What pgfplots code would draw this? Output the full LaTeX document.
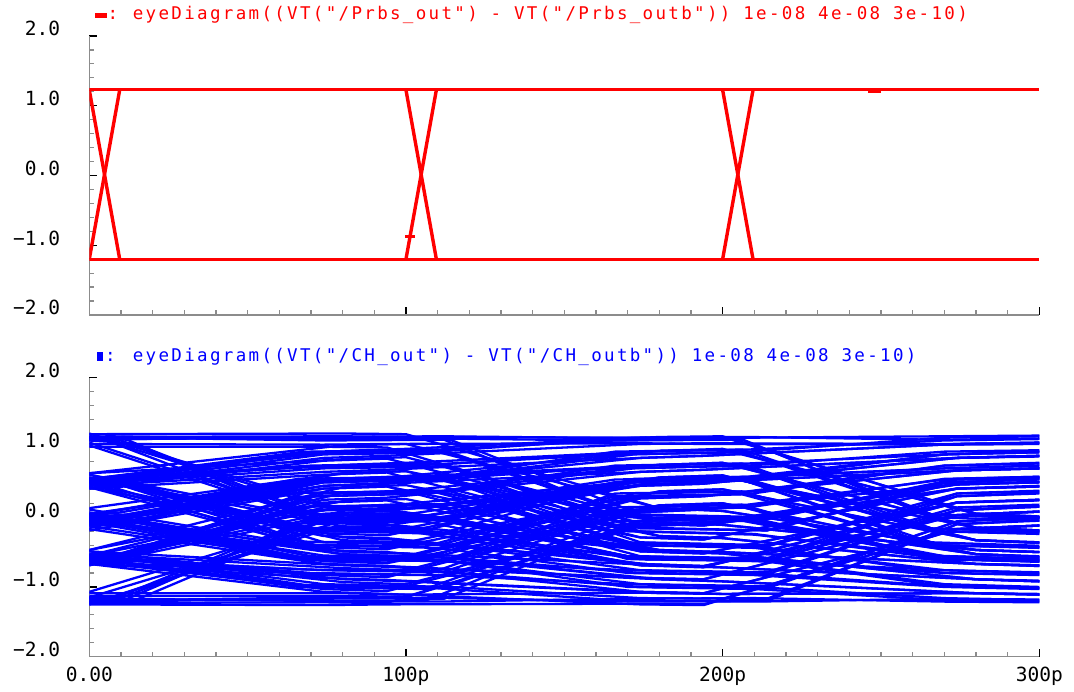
\documentclass[border=0pt]{standalone}
\usepackage{pgfplots}
\pgfplotsset{compat=1.18}
\usepackage{fontspec}
\setmainfont{DejaVu Sans Mono}[RawFeature={+zero}]
\newfontfamily\titlefont{DejaVu Sans Mono}[LetterSpace=13.3,RawFeature={+zero}]
\newfontfamily\tickfont{DejaVu Sans Mono}[RawFeature={+zero}]
\definecolor{cred}{RGB}{255,0,0}
\definecolor{cblue}{RGB}{0,0,255}
\definecolor{axgray}{RGB}{140,140,140}
\pgfplotsset{
  cad/.style={
    scale only axis, width=950bp, height=279bp,
    xmin=0, xmax=300, ymin=-2, ymax=2,
    axis x line*=bottom, axis y line*=left,
    axis line style={axgray, line width=1.5bp, -},
    xtick={0,100,200,300}, minor x tick num=9,
    ytick={-2,-1,0,1,2}, minor y tick num=4,
    yticklabels={−2.0,−1.0,0.0,1.0,2.0},
    tick align=inside,
    major tick length=8bp, minor tick length=4.5bp,
    every major tick/.append style={black, line width=1.3bp},
    every minor tick/.append style={axgray, line width=1.2bp},
    yticklabel style={anchor=base east, inner sep=0pt, xshift=-29bp, font=\tickfont\fontsize{19.5bp}{21bp}\selectfont},
    xticklabel style={anchor=base, inner sep=0pt, yshift=-25bp, font=\tickfont\fontsize{19.5bp}{21bp}\selectfont},
    title style={at={(0,1)}, anchor=base west, inner sep=0pt, xshift=5.7bp, yshift=10.5bp, font=\titlefont\fontsize{17.5bp}{19bp}\selectfont},
  },
  rd/.style={cred, line width=3bp},
  rt/.style={cred, line width=3.4bp},
  bl/.style={cblue, line width=2.3bp},
}
\begin{document}
\begin{tikzpicture}
\path[use as bounding box] (0,0) rectangle (1074bp,692bp);
\begin{axis}[cad, at={(89.3bp,377bp)}, anchor=south west,
  xticklabels={,,,},
  title={\textcolor{cred}{\makebox[37.7bp][l]{\rule[1.7bp]{12bp}{5bp}\hspace{0.5bp}:}eyeDiagram((VT("/Prbs\_out") - VT("/Prbs\_outb")) 1e-08 4e-08 3e-10)}}]
\addplot[rd] coordinates {(0,1.227)(300,1.227)};
\addplot[rd] coordinates {(0,-1.2)(300,-1.2)};
\addplot[rt] coordinates {(0,1.227)(9.6,-1.2)};
\addplot[rt] coordinates {(0,-1.2)(9.6,1.227)};
\addplot[rt] coordinates {(100,1.227)(109.6,-1.2)};
\addplot[rt] coordinates {(100,-1.2)(109.6,1.227)};
\addplot[rt] coordinates {(200,1.227)(209.6,-1.2)};
\addplot[rt] coordinates {(200,-1.2)(209.6,1.227)};
\addplot[cred, line width=3bp] coordinates {(99.8,-0.88)(102.8,-0.88)};
\addplot[cred, line width=3bp] coordinates {(246,1.21)(250,1.21)};
\addplot[cred, line width=3bp] coordinates {(209.6,-1.2)(213.5,-1.2)};
\end{axis}
\begin{axis}[cad, at={(89.3bp,35.3bp)}, anchor=south west,
  xticklabels={0.00,100p,200p,300p},
  title={\textcolor{cblue}{\makebox[37.7bp][l]{\hspace{2bp}\rule{6bp}{9bp}\hspace{2bp}:}eyeDiagram((VT("/CH\_out") - VT("/CH\_outb")) 1e-08 4e-08 3e-10)}}]
% set 1
\addplot[bl] coordinates {(0,-1.16)(10,-1.17)(70,-1.20)(110,-1.21)(170,-1.17)(210,-1.16)(270,-1.21)(300,-1.22)};
\addplot[bl] coordinates {(0,-1.20)(14,-1.19)(74,-1.15)(114,-1.16)(174,-1.21)(214,-1.20)(274,-0.10)(300,-0.04)};
\addplot[bl] coordinates {(0,-1.17)(6,-1.18)(66,-1.19)(106,-1.20)(166,-0.11)(206,-0.05)(266,-0.55)(300,-0.60)};
\addplot[bl] coordinates {(0,-1.22)(12,-1.21)(68,-1.16)(112,-1.17)(172,-0.06)(208,-0.02)(270,0.49)(300,0.55)};
\addplot[bl] coordinates {(0,-1.15)(10,-1.16)(70,-0.10)(110,-0.04)(170,-0.56)(210,-0.61)(270,-0.80)(300,-0.83)};
\addplot[bl] coordinates {(0,-1.19)(14,-1.20)(74,-0.05)(114,-0.01)(174,-0.60)(214,-0.62)(274,0.30)(300,0.35)};
\addplot[bl] coordinates {(0,-1.21)(6,-1.20)(66,-0.09)(106,-0.06)(166,0.50)(206,0.55)(266,-0.16)(300,-0.21)};
\addplot[bl] coordinates {(0,-1.16)(12,-1.17)(68,-0.07)(112,-0.03)(172,0.54)(208,0.58)(270,0.90)(300,0.95)};
\addplot[bl] coordinates {(0,-0.05)(10,-0.08)(70,-0.60)(110,-0.63)(170,-0.76)(210,-0.80)(270,-0.99)(300,-1.02)};
\addplot[bl] coordinates {(0,-0.11)(14,-0.13)(74,-0.55)(114,-0.58)(174,-0.80)(214,-0.82)(274,0.10)(300,0.16)};
\addplot[bl] coordinates {(0,-0.06)(6,-0.09)(66,-0.57)(106,-0.60)(166,0.34)(206,0.37)(266,-0.40)(300,-0.44)};
\addplot[bl] coordinates {(0,-0.10)(12,-0.12)(68,-0.61)(112,-0.62)(172,0.29)(208,0.33)(270,0.74)(300,0.78)};
\addplot[bl] coordinates {(0,-0.07)(10,-0.04)(70,0.55)(110,0.58)(170,-0.20)(210,-0.25)(270,-0.56)(300,-0.60)};
\addplot[bl] coordinates {(0,-0.09)(14,-0.06)(74,0.50)(114,0.54)(174,-0.15)(214,-0.19)(274,0.54)(300,0.57)};
\addplot[bl] coordinates {(0,-0.05)(6,-0.02)(66,0.49)(106,0.54)(166,0.94)(206,0.97)(266,0.04)(300,-0.02)};
\addplot[bl] coordinates {(0,-0.12)(12,-0.08)(68,0.53)(112,0.57)(172,0.90)(208,0.94)(270,1.14)(300,1.16)};
\addplot[bl] coordinates {(0,-0.55)(10,-0.58)(70,-0.80)(110,-0.83)(170,-0.96)(210,-1.00)(270,-1.16)(300,-1.19)};
\addplot[bl] coordinates {(0,-0.61)(14,-0.63)(74,-0.76)(114,-0.79)(174,-1.00)(214,-1.02)(274,-0.06)(300,0.00)};
\addplot[bl] coordinates {(0,-0.56)(6,-0.59)(66,-0.81)(106,-0.83)(166,0.14)(206,0.18)(266,-0.60)(300,-0.64)};
\addplot[bl] coordinates {(0,-0.60)(12,-0.62)(68,-0.75)(112,-0.78)(172,0.09)(208,0.14)(270,0.55)(300,0.58)};
\addplot[bl] coordinates {(0,-0.57)(10,-0.54)(70,0.30)(110,0.35)(170,-0.36)(210,-0.41)(270,-0.80)(300,-0.82)};
\addplot[bl] coordinates {(0,-0.59)(14,-0.56)(74,0.34)(114,0.37)(174,-0.40)(214,-0.42)(274,0.30)(300,0.34)};
\addplot[bl] coordinates {(0,-0.61)(6,-0.58)(66,0.29)(106,0.34)(166,0.74)(206,0.77)(266,-0.16)(300,-0.21)};
\addplot[bl] coordinates {(0,-0.56)(12,-0.53)(68,0.35)(112,0.38)(172,0.70)(208,0.74)(270,0.94)(300,0.96)};
\addplot[bl] coordinates {(0,0.55)(10,0.52)(70,-0.16)(110,-0.21)(170,-0.56)(210,-0.60)(270,-0.96)(300,-1.00)};
\addplot[bl] coordinates {(0,0.50)(14,0.47)(74,-0.20)(114,-0.24)(174,-0.60)(214,-0.62)(274,0.14)(300,0.18)};
\addplot[bl] coordinates {(0,0.54)(6,0.51)(66,-0.15)(106,-0.19)(166,0.50)(206,0.54)(266,-0.36)(300,-0.41)};
\addplot[bl] coordinates {(0,0.49)(12,0.46)(68,-0.20)(112,-0.22)(172,0.55)(208,0.58)(270,0.70)(300,0.74)};
\addplot[bl] coordinates {(0,0.53)(10,0.57)(70,0.94)(110,0.97)(170,0.04)(210,-0.02)(270,-0.60)(300,-0.63)};
\addplot[bl] coordinates {(0,0.50)(14,0.55)(74,0.90)(114,0.93)(174,0.00)(214,-0.03)(274,0.54)(300,0.57)};
\addplot[bl] coordinates {(0,0.55)(6,0.58)(66,0.93)(106,0.96)(166,1.10)(206,1.12)(266,0.00)(300,-0.05)};
\addplot[bl] coordinates {(0,0.51)(12,0.56)(68,0.91)(112,0.95)(172,1.14)(208,1.15)(270,1.11)(300,1.13)};
\addplot[bl] coordinates {(0,-0.60)(10,-0.64)(70,-0.99)(110,-1.02)(170,-1.20)(210,-1.21)(270,-1.17)(300,-1.18)};
\addplot[bl] coordinates {(0,-0.56)(14,-0.61)(74,-0.96)(114,-1.00)(174,-1.16)(214,-1.17)(274,-0.10)(300,-0.05)};
\addplot[bl] coordinates {(0,-0.59)(6,-0.63)(66,-1.00)(106,-1.03)(166,-0.06)(206,-0.02)(266,-0.56)(300,-0.61)};
\addplot[bl] coordinates {(0,-0.55)(12,-0.60)(68,-0.97)(112,-1.00)(172,-0.10)(208,-0.05)(270,0.50)(300,0.54)};
\addplot[bl] coordinates {(0,-0.61)(10,-0.57)(70,0.10)(110,0.15)(170,-0.60)(210,-0.63)(270,-0.76)(300,-0.79)};
\addplot[bl] coordinates {(0,-0.57)(14,-0.53)(74,0.14)(114,0.18)(174,-0.56)(214,-0.59)(274,0.34)(300,0.38)};
\addplot[bl] coordinates {(0,-0.60)(6,-0.56)(66,0.09)(106,0.13)(166,0.54)(206,0.57)(266,-0.20)(300,-0.24)};
\addplot[bl] coordinates {(0,-0.56)(12,-0.52)(68,0.15)(112,0.19)(172,0.50)(208,0.55)(270,0.90)(300,0.93)};
\addplot[bl] coordinates {(0,0.50)(10,0.46)(70,-0.40)(110,-0.44)(170,-0.80)(210,-0.83)(270,-1.00)(300,-1.03)};
\addplot[bl] coordinates {(0,0.54)(14,0.50)(74,-0.36)(114,-0.40)(174,-0.76)(214,-0.79)(274,0.10)(300,0.15)};
\addplot[bl] coordinates {(0,0.49)(6,0.45)(66,-0.39)(106,-0.42)(166,0.30)(206,0.33)(266,-0.40)(300,-0.43)};
\addplot[bl] coordinates {(0,0.55)(12,0.51)(68,-0.35)(112,-0.38)(172,0.34)(208,0.37)(270,0.74)(300,0.77)};
\addplot[bl] coordinates {(0,0.53)(10,0.56)(70,0.74)(110,0.77)(170,-0.20)(210,-0.24)(270,-0.60)(300,-0.63)};
\addplot[bl] coordinates {(0,0.49)(14,0.52)(74,0.70)(114,0.73)(174,-0.16)(214,-0.19)(274,0.50)(300,0.55)};
\addplot[bl] coordinates {(0,0.54)(6,0.57)(66,0.71)(106,0.75)(166,0.90)(206,0.93)(266,0.04)(300,-0.01)};
\addplot[bl] coordinates {(0,0.50)(12,0.53)(68,0.73)(112,0.76)(172,0.94)(208,0.97)(270,1.10)(300,1.12)};
\addplot[bl] coordinates {(0,0.04)(10,0.00)(70,-0.56)(110,-0.61)(170,-1.00)(210,-1.03)(270,-1.19)(300,-1.21)};
\addplot[bl] coordinates {(0,-0.01)(14,-0.05)(74,-0.60)(114,-0.63)(174,-0.96)(214,-0.99)(274,-0.06)(300,-0.01)};
\addplot[bl] coordinates {(0,0.05)(6,0.01)(66,-0.57)(106,-0.61)(166,0.10)(206,0.15)(266,-0.60)(300,-0.63)};
\addplot[bl] coordinates {(0,0.00)(12,-0.04)(68,-0.59)(112,-0.62)(172,0.14)(208,0.18)(270,0.54)(300,0.57)};
\addplot[bl] coordinates {(0,0.03)(10,0.07)(70,0.54)(110,0.58)(170,-0.40)(210,-0.44)(270,-0.76)(300,-0.80)};
\addplot[bl] coordinates {(0,-0.02)(14,0.02)(74,0.50)(114,0.55)(174,-0.36)(214,-0.40)(274,0.34)(300,0.37)};
\addplot[bl] coordinates {(0,0.04)(6,0.08)(66,0.55)(106,0.58)(166,0.70)(206,0.74)(266,-0.20)(300,-0.23)};
\addplot[bl] coordinates {(0,0.00)(12,0.04)(68,0.51)(112,0.55)(172,0.74)(208,0.77)(270,0.90)(300,0.93)};
\addplot[bl] coordinates {(0,1.14)(10,1.10)(70,0.04)(110,-0.02)(170,-0.56)(210,-0.61)(270,-0.99)(300,-1.02)};
\addplot[bl] coordinates {(0,1.10)(14,1.06)(74,0.00)(114,-0.04)(174,-0.60)(214,-0.62)(274,0.10)(300,0.15)};
\addplot[bl] coordinates {(0,1.13)(6,1.09)(66,0.05)(106,0.01)(166,0.50)(206,0.54)(266,-0.40)(300,-0.43)};
\addplot[bl] coordinates {(0,1.15)(12,1.11)(68,-0.01)(112,-0.04)(172,0.54)(208,0.57)(270,0.70)(300,0.74)};
\addplot[bl] coordinates {(0,1.11)(10,1.12)(70,1.14)(110,1.15)(170,0.00)(210,-0.05)(270,-0.56)(300,-0.60)};
\addplot[bl] coordinates {(0,1.13)(14,1.14)(74,1.10)(114,1.11)(174,0.04)(214,0.00)(274,0.55)(300,0.58)};
\addplot[bl] coordinates {(0,1.15)(6,1.16)(66,1.12)(106,1.13)(166,1.10)(206,1.11)(266,0.04)(300,-0.01)};
\addplot[bl] coordinates {(0,1.10)(12,1.12)(68,1.15)(112,1.16)(172,1.13)(208,1.14)(270,1.16)(300,1.17)};
% set 2
\addplot[bl] coordinates {(0,-1.09)(80,-1.09)(100,-1.11)(180,-1.08)(200,-1.10)(280,-1.09)(300,-1.11)};
\addplot[bl] coordinates {(0,-1.25)(74,-1.26)(94,-1.25)(174,-1.24)(194,-1.25)(274,-0.17)(300,-0.12)};
\addplot[bl] coordinates {(0,-1.13)(80,-1.13)(100,-1.14)(180,-0.03)(200,0.00)(280,-0.53)(300,-0.57)};
\addplot[bl] coordinates {(0,-1.23)(74,-1.22)(94,-1.23)(174,-0.13)(194,-0.10)(274,0.47)(300,0.51)};
\addplot[bl] coordinates {(0,-1.07)(80,0.03)(100,0.06)(180,-0.47)(200,-0.50)(280,-0.67)(300,-0.69)};
\addplot[bl] coordinates {(0,-1.25)(74,-0.19)(94,-0.16)(174,-0.69)(194,-0.71)(274,0.21)(300,0.25)};
\addplot[bl] coordinates {(0,-1.15)(80,-0.05)(100,-0.02)(180,0.55)(200,0.58)(280,-0.15)(300,-0.19)};
\addplot[bl] coordinates {(0,-1.25)(74,-0.15)(94,-0.12)(174,0.45)(194,0.48)(274,0.85)(300,0.88)};
\addplot[bl] coordinates {(0,0.01)(80,-0.49)(100,-0.52)(180,-0.69)(200,-0.72)(280,-0.89)(300,-0.92)};
\addplot[bl] coordinates {(0,-0.17)(74,-0.67)(94,-0.70)(174,-0.87)(194,-0.89)(274,0.03)(300,0.08)};
\addplot[bl] coordinates {(0,-0.03)(80,-0.53)(100,-0.56)(180,0.37)(200,0.40)(280,-0.33)(300,-0.37)};
\addplot[bl] coordinates {(0,-0.13)(74,-0.63)(94,-0.65)(174,0.27)(194,0.30)(274,0.67)(300,0.70)};
\addplot[bl] coordinates {(0,0.03)(80,0.63)(100,0.66)(180,-0.07)(200,-0.11)(280,-0.47)(300,-0.50)};
\addplot[bl] coordinates {(0,-0.19)(74,0.41)(94,0.44)(174,-0.29)(194,-0.32)(274,0.41)(300,0.44)};
\addplot[bl] coordinates {(0,-0.05)(80,0.55)(100,0.59)(180,0.95)(200,0.97)(280,0.05)(300,0.00)};
\addplot[bl] coordinates {(0,-0.15)(74,0.45)(94,0.49)(174,0.85)(194,0.88)(274,1.05)(300,1.07)};
\addplot[bl] coordinates {(0,-0.49)(80,-0.69)(100,-0.72)(180,-0.89)(200,-0.92)(280,-1.09)(300,-1.11)};
\addplot[bl] coordinates {(0,-0.67)(74,-0.87)(94,-0.90)(174,-1.07)(194,-1.09)(274,-0.17)(300,-0.12)};
\addplot[bl] coordinates {(0,-0.53)(80,-0.73)(100,-0.76)(180,0.17)(200,0.20)(280,-0.53)(300,-0.57)};
\addplot[bl] coordinates {(0,-0.63)(74,-0.83)(94,-0.86)(174,0.07)(194,0.11)(274,0.47)(300,0.50)};
\addplot[bl] coordinates {(0,-0.47)(80,0.43)(100,0.46)(180,-0.27)(200,-0.30)(280,-0.67)(300,-0.70)};
\addplot[bl] coordinates {(0,-0.69)(74,0.21)(94,0.24)(174,-0.49)(194,-0.52)(274,0.21)(300,0.24)};
\addplot[bl] coordinates {(0,-0.55)(80,0.35)(100,0.38)(180,0.75)(200,0.78)(280,-0.15)(300,-0.19)};
\addplot[bl] coordinates {(0,-0.65)(74,0.25)(94,0.28)(174,0.65)(194,0.68)(274,0.85)(300,0.87)};
\addplot[bl] coordinates {(0,0.61)(80,-0.09)(100,-0.13)(180,-0.49)(200,-0.52)(280,-0.89)(300,-0.92)};
\addplot[bl] coordinates {(0,0.43)(74,-0.27)(94,-0.30)(174,-0.67)(194,-0.70)(274,0.03)(300,0.08)};
\addplot[bl] coordinates {(0,0.57)(80,-0.13)(100,-0.16)(180,0.57)(200,0.60)(280,-0.33)(300,-0.37)};
\addplot[bl] coordinates {(0,0.47)(74,-0.23)(94,-0.26)(174,0.47)(194,0.50)(274,0.67)(300,0.70)};
\addplot[bl] coordinates {(0,0.63)(80,1.03)(100,1.05)(180,0.13)(200,0.09)(280,-0.47)(300,-0.50)};
\addplot[bl] coordinates {(0,0.41)(74,0.81)(94,0.84)(174,-0.09)(194,-0.12)(274,0.41)(300,0.44)};
\addplot[bl] coordinates {(0,0.55)(80,0.95)(100,0.98)(180,1.15)(200,1.16)(280,0.05)(300,0.00)};
\addplot[bl] coordinates {(0,0.45)(74,0.85)(94,0.88)(174,1.05)(194,1.06)(274,1.05)(300,1.06)};
\addplot[bl] coordinates {(0,-0.49)(80,-0.89)(100,-0.92)(180,-1.09)(200,-1.10)(280,-1.09)(300,-1.10)};
\addplot[bl] coordinates {(0,-0.67)(74,-1.07)(94,-1.10)(174,-1.25)(194,-1.26)(274,-0.17)(300,-0.12)};
\addplot[bl] coordinates {(0,-0.53)(80,-0.93)(100,-0.96)(180,-0.03)(200,0.01)(280,-0.53)(300,-0.57)};
\addplot[bl] coordinates {(0,-0.63)(74,-1.03)(94,-1.06)(174,-0.13)(194,-0.09)(274,0.47)(300,0.50)};
\addplot[bl] coordinates {(0,-0.47)(80,0.23)(100,0.26)(180,-0.47)(200,-0.50)(280,-0.67)(300,-0.69)};
\addplot[bl] coordinates {(0,-0.69)(74,0.01)(94,0.05)(174,-0.69)(194,-0.72)(274,0.21)(300,0.25)};
\addplot[bl] coordinates {(0,-0.55)(80,0.15)(100,0.19)(180,0.55)(200,0.58)(280,-0.15)(300,-0.19)};
\addplot[bl] coordinates {(0,-0.65)(74,0.05)(94,0.09)(174,0.45)(194,0.48)(274,0.85)(300,0.88)};
\addplot[bl] coordinates {(0,0.61)(80,-0.29)(100,-0.33)(180,-0.69)(200,-0.72)(280,-0.89)(300,-0.91)};
\addplot[bl] coordinates {(0,0.43)(74,-0.47)(94,-0.50)(174,-0.87)(194,-0.89)(274,0.03)(300,0.08)};
\addplot[bl] coordinates {(0,0.57)(80,-0.33)(100,-0.36)(180,0.37)(200,0.40)(280,-0.33)(300,-0.36)};
\addplot[bl] coordinates {(0,0.47)(74,-0.43)(94,-0.46)(174,0.27)(194,0.30)(274,0.67)(300,0.70)};
\addplot[bl] coordinates {(0,0.63)(80,0.83)(100,0.86)(180,-0.07)(200,-0.11)(280,-0.47)(300,-0.50)};
\addplot[bl] coordinates {(0,0.41)(74,0.61)(94,0.64)(174,-0.29)(194,-0.32)(274,0.41)(300,0.45)};
\addplot[bl] coordinates {(0,0.55)(80,0.75)(100,0.78)(180,0.95)(200,0.98)(280,0.05)(300,0.01)};
\addplot[bl] coordinates {(0,0.45)(74,0.65)(94,0.68)(174,0.85)(194,0.88)(274,1.05)(300,1.07)};
\addplot[bl] coordinates {(0,0.11)(80,-0.49)(100,-0.52)(180,-0.89)(200,-0.92)(280,-1.09)(300,-1.11)};
\addplot[bl] coordinates {(0,-0.07)(74,-0.67)(94,-0.70)(174,-1.07)(194,-1.09)(274,-0.17)(300,-0.12)};
\addplot[bl] coordinates {(0,0.07)(80,-0.53)(100,-0.56)(180,0.17)(200,0.20)(280,-0.53)(300,-0.56)};
\addplot[bl] coordinates {(0,-0.03)(74,-0.63)(94,-0.66)(174,0.07)(194,0.11)(274,0.47)(300,0.50)};
\addplot[bl] coordinates {(0,0.13)(80,0.63)(100,0.66)(180,-0.27)(200,-0.30)(280,-0.67)(300,-0.70)};
\addplot[bl] coordinates {(0,-0.09)(74,0.41)(94,0.44)(174,-0.49)(194,-0.52)(274,0.21)(300,0.25)};
\addplot[bl] coordinates {(0,0.05)(80,0.55)(100,0.58)(180,0.75)(200,0.78)(280,-0.15)(300,-0.19)};
\addplot[bl] coordinates {(0,-0.05)(74,0.45)(94,0.48)(174,0.65)(194,0.68)(274,0.85)(300,0.88)};
\addplot[bl] coordinates {(0,1.20)(80,0.11)(100,0.07)(180,-0.49)(200,-0.52)(280,-0.89)(300,-0.92)};
\addplot[bl] coordinates {(0,1.03)(74,-0.07)(94,-0.10)(174,-0.67)(194,-0.70)(274,0.03)(300,0.08)};
\addplot[bl] coordinates {(0,1.17)(80,0.07)(100,0.04)(180,0.57)(200,0.60)(280,-0.33)(300,-0.36)};
\addplot[bl] coordinates {(0,1.07)(74,-0.03)(94,-0.06)(174,0.47)(194,0.50)(274,0.67)(300,0.70)};
\addplot[bl] coordinates {(0,1.19)(80,1.20)(100,1.19)(180,0.13)(200,0.09)(280,-0.47)(300,-0.50)};
\addplot[bl] coordinates {(0,1.01)(74,1.01)(94,1.00)(174,-0.09)(194,-0.12)(274,0.41)(300,0.44)};
\addplot[bl] coordinates {(0,1.15)(80,1.16)(100,1.15)(180,1.14)(200,1.15)(280,0.05)(300,0.01)};
\addplot[bl] coordinates {(0,1.05)(74,1.04)(94,1.05)(174,1.06)(194,1.05)(274,1.04)(300,1.05)};
\end{axis}
\end{tikzpicture}
\end{document}
